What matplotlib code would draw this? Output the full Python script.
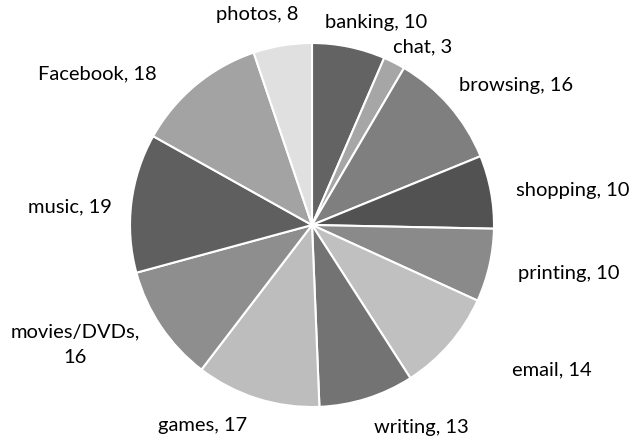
import matplotlib
matplotlib.use("Agg")
import matplotlib.pyplot as plt

labels = ["banking", "chat", "browsing", "shopping", "printing", "email",
          "writing", "games", "movies/DVDs", "music", "Facebook", "photos"]
values = [10, 3, 16, 10, 10, 14, 13, 17, 16, 19, 18, 8]
colors = ["#636363", "#a6a6a6", "#7f7f7f", "#525252", "#8a8a8a", "#c0c0c0",
          "#737373", "#bdbdbd", "#8e8e8e", "#5f5f5f", "#a3a3a3", "#e0e0e0"]

# label placement (pie radius = 1)
label_xy = [(0.35, 1.115), (0.61, 0.978), (1.12, 0.769), (1.43, 0.192),
            (1.41, -0.264), (1.32, -0.797), (0.60, -1.11), (-0.60, -1.099),
            (-1.302, -0.659), (-1.33, 0.099), (-1.18, 0.83), (-0.30, 1.154)]

W, H = 633, 443
cx, cy, r = 312, 225, 182
fig = plt.figure(figsize=(W / 100, H / 100), dpi=100)
ax = fig.add_axes([(cx - r) / W, (H - cy - r) / H, 2 * r / W, 2 * r / H])

ax.pie(values, colors=colors, startangle=90, counterclock=False,
       wedgeprops=dict(edgecolor="white", linewidth=1.5))
ax.set_xlim(-1, 1)
ax.set_ylim(-1, 1)
ax.set_aspect("equal")
ax.axis("off")

for lab, v, (x, y) in zip(labels, values, label_xy):
    txt = f"{lab}, {v}"
    if lab == "movies/DVDs":
        txt = f"{lab},\n{v}"
    ax.text(x, y, txt, ha="center", va="center", fontsize=14.5,
            family="Lato", color="black", linespacing=1.6, clip_on=False)

fig.savefig("out.png", dpi=100)
